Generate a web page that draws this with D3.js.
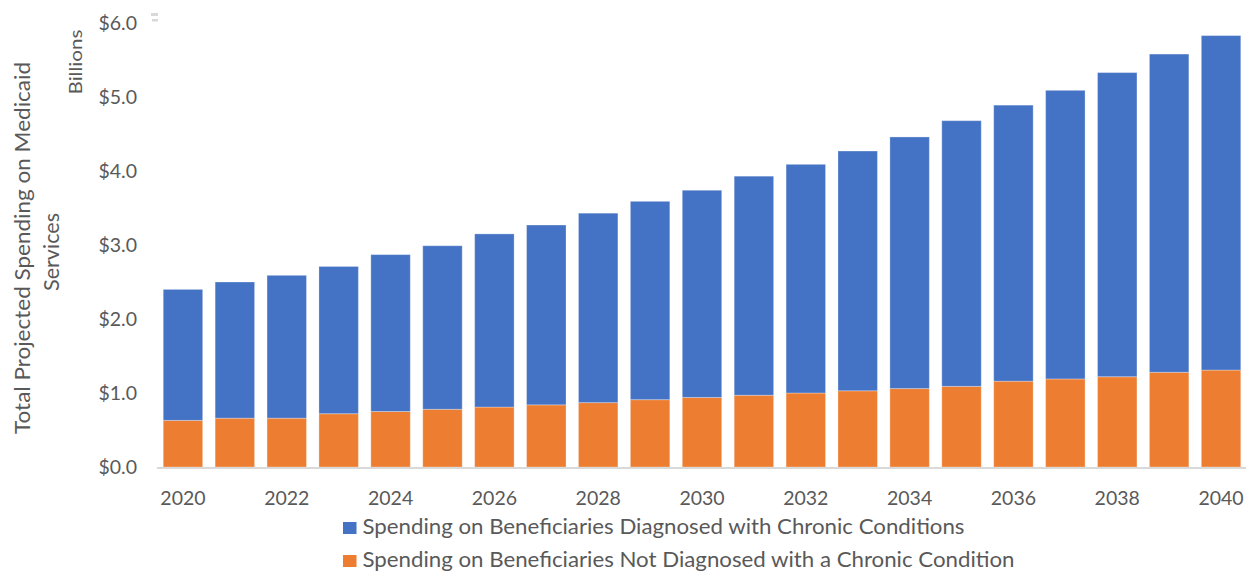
<!DOCTYPE html>
<html>
<head>
<meta charset="utf-8">
<script src="https://cdn.jsdelivr.net/npm/d3@7/dist/d3.min.js"></script>
<style>
  html, body { margin: 0; padding: 0; background: #fff; }
  svg { display: block; font-family: Lato, "Open Sans", sans-serif; }
</style>
</head>
<body>
<svg id="chart" width="1246" height="571"></svg>
<script>
// Projected Medicaid spending, billions of dollars
const years = d3.range(2020, 2041).map(String);
const notDiagnosed = [0.63, 0.66, 0.66, 0.72, 0.75, 0.78, 0.81, 0.84, 0.87, 0.91, 0.94,
                      0.97, 1.00, 1.03, 1.06, 1.09, 1.16, 1.19, 1.22, 1.28, 1.31];
const diagnosed    = [1.77, 1.84, 1.93, 1.99, 2.12, 2.21, 2.34, 2.43, 2.56, 2.68, 2.80,
                      2.96, 3.09, 3.24, 3.40, 3.59, 3.73, 3.90, 4.11, 4.30, 4.52];
const yTicks = [0, 1, 2, 3, 4, 5, 6];
const xTickLabels = years.filter((d, i) => i % 2 === 0);
const seriesNames = [
  "Spending on Beneficiaries Diagnosed with Chronic Conditions",
  "Spending on Beneficiaries Not Diagnosed with a Chronic Condition"
];
const yTitle = ["Total Projected Spending on Medicaid", "Services"];
const unitLabel = "Billions";

const BLUE = "#4472C4", ORANGE = "#ED7D31", TEXT = "#595959", AXIS = "#D9D9D9";

const svg = d3.select("#chart");
const plot = { left: 157, right: 1247, top: 23, bottom: 467 };

const x = d3.scaleBand().domain(years).range([plot.left, plot.right]).paddingInner(0.24).paddingOuter(0.12);
const y = d3.scaleLinear().domain([0, 6]).range([plot.bottom, plot.top]);

const rows = years.map((yr, i) => ({ year: yr, notDiagnosed: notDiagnosed[i], diagnosed: diagnosed[i] }));
const stack = d3.stack().keys(["notDiagnosed", "diagnosed"]);
const layers = stack(rows);
const colour = { notDiagnosed: ORANGE, diagnosed: BLUE };

// stacked bars
svg.append("g").selectAll("g")
  .data(layers)
  .join("g")
    .attr("fill", d => colour[d.key])
  .selectAll("rect")
  .data(d => d)
  .join("rect")
    .attr("x", d => x(d.data.year))
    .attr("width", x.bandwidth())
    .attr("y", d => y(d[1]))
    .attr("height", d => y(d[0]) - y(d[1]))
    .attr("stroke", "#fff")
    .attr("stroke-opacity", 0.3)
    .attr("stroke-width", 1);

// category axis line
svg.append("line")
  .attr("x1", plot.left).attr("x2", plot.right)
  .attr("y1", y(0) + 1).attr("y2", y(0) + 1)
  .attr("stroke", AXIS).attr("stroke-width", 2);

// small grey mark at the top-left corner of the plot area
svg.append("g").attr("fill", AXIS)
  .call(g => {
    g.append("rect").attr("x", plot.left - 6).attr("y", plot.top - 10).attr("width", 7).attr("height", 3);
    g.append("rect").attr("x", plot.left - 5).attr("y", plot.top - 4).attr("width", 6).attr("height", 2.5);
  });

// value axis
const yAxis = svg.append("g")
  .attr("transform", `translate(${plot.left},0)`)
  .call(d3.axisLeft(y).tickValues(yTicks).tickSize(0).tickPadding(20)
        .tickFormat(d => "$" + d3.format(".1f")(d)));
yAxis.select(".domain").remove();
yAxis.selectAll("text")
  .attr("fill", TEXT).attr("font-size", 19.5).attr("font-family", "Lato, sans-serif");

// year axis
const xAxis = svg.append("g")
  .attr("transform", `translate(0,${plot.bottom})`)
  .call(d3.axisBottom(x).tickValues(xTickLabels).tickSize(0));
xAxis.select(".domain").remove();
xAxis.selectAll("text")
  .attr("y", 38).attr("dy", 0)
  .attr("fill", TEXT).attr("font-size", 19.5).attr("font-family", "Lato, sans-serif");

// axis titles
const midY = (plot.top + plot.bottom) / 2 + 3;
svg.append("text")
  .attr("transform", `translate(30,${midY}) rotate(-90)`)
  .attr("text-anchor", "middle")
  .attr("fill", TEXT).attr("font-size", 21)
  .attr("textLength", 372).attr("lengthAdjust", "spacingAndGlyphs")
  .text(yTitle[0]);
svg.append("text")
  .attr("transform", `translate(59,${midY + 4}) rotate(-90)`)
  .attr("text-anchor", "middle")
  .attr("fill", TEXT).attr("font-size", 21)
  .attr("textLength", 78).attr("lengthAdjust", "spacingAndGlyphs")
  .text(yTitle[1]);
svg.append("text")
  .attr("transform", `translate(82,62) rotate(-90)`)
  .attr("text-anchor", "middle")
  .attr("fill", TEXT).attr("font-size", 18)
  .attr("textLength", 65).attr("lengthAdjust", "spacingAndGlyphs")
  .text(unitLabel);

// legend
const legendWidths = [602, 652];
const legend = svg.append("g").attr("transform", "translate(343,522)");
[BLUE, ORANGE].forEach((c, i) => {
  const row = legend.append("g").attr("transform", `translate(0,${i * 33})`);
  row.append("rect").attr("width", 13.5).attr("height", 12).attr("fill", c);
  row.append("text")
    .attr("x", 19.5).attr("y", 11.5)
    .attr("fill", TEXT).attr("font-size", 21)
    .attr("textLength", legendWidths[i]).attr("lengthAdjust", "spacingAndGlyphs")
    .text(seriesNames[i]);
});
</script>
</body>
</html>
